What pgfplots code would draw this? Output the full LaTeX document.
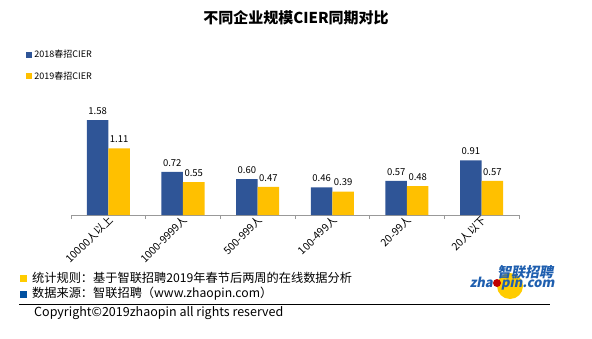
\documentclass[border=0pt]{standalone}
\usepackage{fontspec}
\setmainfont{Noto Sans CJK SC}
\newfontfamily\logofont[UprightFeatures={FakeSlant=0.2},BoldFeatures={FakeSlant=0.2}]{Noto Sans CJK SC}
\usepackage{pgfplots}
\pgfplotsset{compat=1.18}
\definecolor{cblue}{HTML}{2F5597}
\definecolor{cyellow}{HTML}{FFC000}
\definecolor{fyellow}{HTML}{FFCC00}
\definecolor{fblue}{HTML}{0050A0}
\definecolor{logoblue}{HTML}{1F5FAF}
\begin{document}
\begin{tikzpicture}[x=1pt,y=1pt]
\path[use as bounding box] (0,0) rectangle (592,338);
\node[font=\fontsize{15}{17}\selectfont\bfseries] at (296,320) {不同企业规模CIER同期对比};
\begin{axis}[
  at={(71pt,123pt)}, anchor=south west,
  scale only axis, width=448pt, height=120pt,
  ybar, bar width=21.5pt,
  xmin=-0.5, xmax=5.5, ymin=0, ymax=2,
  axis x line*=bottom, axis y line=none,
  x axis line style={gray!80, line width=0.8pt},
  xtick={0,...,5},
  xticklabels={10000人以上,1000-9999人,500-999人,100-499人,20-99人,20人以下},
  major tick length=0pt,
  minor xtick={-0.5,0.5,...,5.5},
  minor tick length=4pt,
  minor tick style={gray!80, line width=0.8pt},
  tick align=outside,
  x tick label style={rotate=45, anchor=east, font=\fontsize{10.5}{12}\selectfont, yshift=-4pt, xshift=3pt},
  nodes near coords={\pgfmathprintnumber[fixed,fixed zerofill,precision=2]{\pgfplotspointmeta}},
  every node near coord/.append style={font=\fontsize{9.5}{11}\selectfont, black, yshift=2pt},
  /pgf/number format/assume math mode=true,
  legend style={at={(axis description cs:-0.1,1.39)}, anchor=north west, draw=none, fill=none,
    font=\fontsize{9}{10}\selectfont, row sep=8pt, inner sep=0pt},
  legend cell align=left,
  clip=false,
]
\addplot[fill=cblue, draw=none, bar shift=-10.75pt,
  legend image code/.code={\fill[cblue] (0pt,-3pt) rectangle (6pt,3pt);}]
  coordinates {(0,1.58) (1,0.72) (2,0.60) (3,0.46) (4,0.57) (5,0.91)};
\addplot[fill=cyellow, draw=none, bar shift=10.75pt,
  legend image code/.code={\fill[cyellow] (0pt,-3pt) rectangle (6pt,3pt);}]
  coordinates {(0,1.11) (1,0.55) (2,0.47) (3,0.39) (4,0.48) (5,0.57)};
\legend{2018春招CIER,2019春招CIER}
\end{axis}
% footer
\fill[fyellow] (20,56) rectangle (27,63);
\fill[fblue] (20,40) rectangle (27,47);
\node[anchor=west, font=\fontsize{12.2}{14}\selectfont, inner sep=0pt] at (32,60) {统计规则：基于智联招聘2019年春节后两周的在线数据分析};
\node[anchor=west, font=\fontsize{12.2}{14}\selectfont, inner sep=0pt] at (32,44) {数据来源：智联招聘（www.zhaopin.com）};
\draw[black, line width=1pt] (19,34) -- (550,34);
\node[anchor=west, font=\fontsize{12.5}{14}\selectfont, inner sep=0pt] at (34,25) {Copyright©2019zhaopin all rights reserved};
% logo
\fill[fyellow] (510,52) circle (13);
\fill[red!75!black] (497,55) circle (4);
\node[font=\logofont\bfseries\fontsize{14}{16}\selectfont, text=logoblue, inner sep=0pt] at (525,66) {智联招聘};
\node[font=\logofont\bfseries\fontsize{13}{15}\selectfont, text=logoblue, inner sep=0pt] at (512,55) {zha\phantom{o}pin.com};
\end{tikzpicture}
\end{document}
